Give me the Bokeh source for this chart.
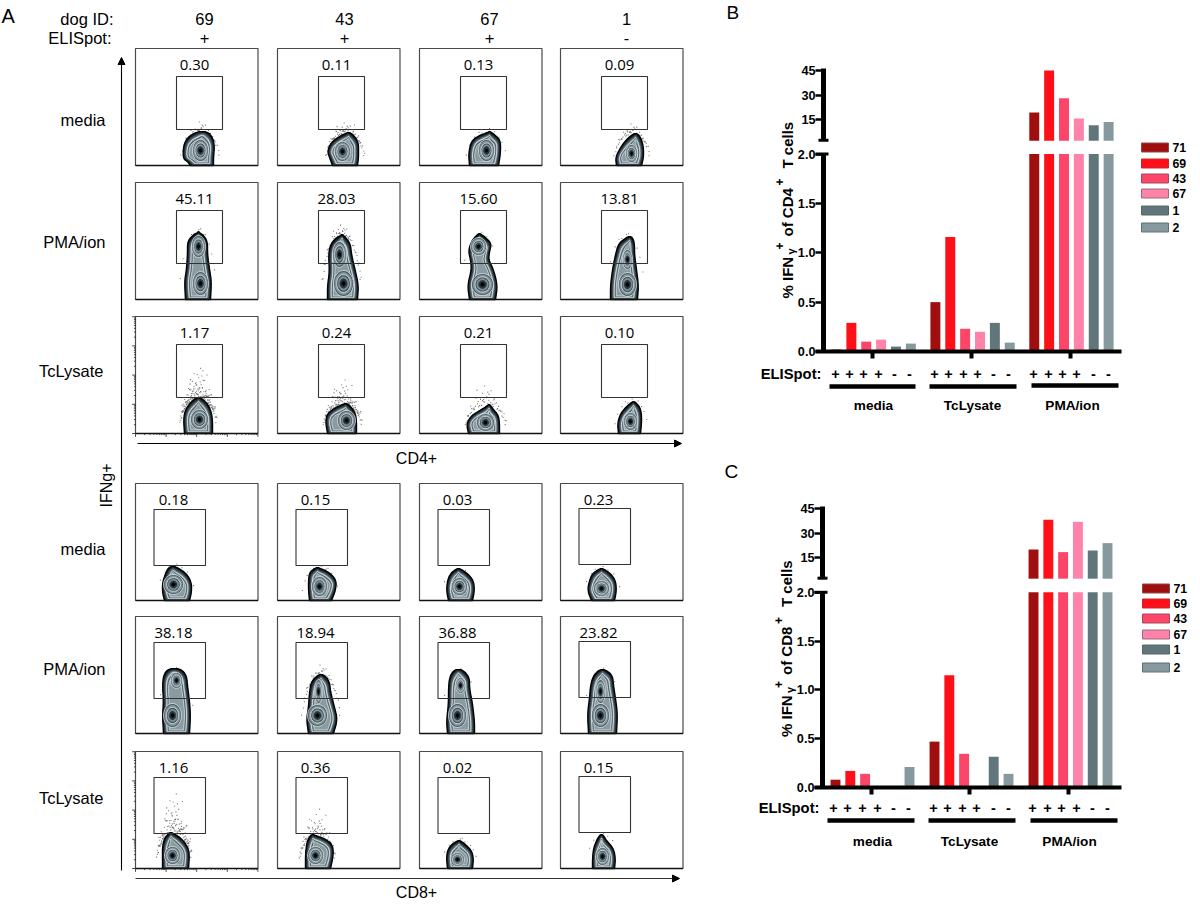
import math
import numpy as np
from bokeh.core.properties import value
from bokeh.embed import file_html
from bokeh.layouts import column, row
from bokeh.models import Arrow, FixedTicker, LinearAxis, NormalHead, Range1d
from bokeh.plotting import figure
from bokeh.resources import INLINE

# ---------- data: panel A ----------
DOG_IDS = ["69", "43", "67", "1"]
ELISPOT = ["+", "+", "+", "-"]
ROW_NAMES = ["media", "PMA/ion", "TcLysate", "media", "PMA/ion", "TcLysate"]
GATE_VALUES = [
    ["0.30", "0.11", "0.13", "0.09"],
    ["45.11", "28.03", "15.60", "13.81"],
    ["1.17", "0.24", "0.21", "0.10"],
    ["0.18", "0.15", "0.03", "0.23"],
    ["38.18", "18.94", "36.88", "23.82"],
    ["1.16", "0.36", "0.02", "0.15"],
]
COL_LEFT = [135, 277, 419, 560]
ROW_TOP = [48, 182, 316, 483, 616, 751]
# blob outlines: (height above the panel floor, left edge, right edge)
BLOBS = [
    [[(0,55,78),(4,52,78),(7,47.5,78),(20,48,79),(28,52,77),(33,60,73)],
     [(0,55,80),(8,52,81),(14,50,81),(22,53,81),(28,60,78),(32,68,74)],
     [(0,50,79),(12,49,81),(25,52,81),(30,60,76),(33,68,72)],
     [(0,56,81),(8,55,83),(18,60,83),(26,66,81),(31,72,78)]],
    [[(0,50,75),(18,49,76),(30,51,74),(45,52,72),(58,52,72),(64,57,68),(67,62,64)],
     [(0,50,80),(14,50,81),(28,52,78),(45,51,74),(55,53,73),(61,58,69),(64,63,66)],
     [(0,50,76),(14,48,78),(30,52,74),(40,51,69),(48,49,70),(56,51,72),(62,55,66),(65,58,62)],
     [(0,50,77),(14,50,78),(30,52,76),(45,55,74),(56,58,74),(62,66,72)]],
    [[(0,49,77),(15,48,77),(24,50,75),(31,55,71),(35,60,66)],
     [(0,50,79),(12,48,79),(20,50,78),(26,58,74),(29,65,71)],
     [(0,49,80),(10,47,80),(18,52,79),(24,62,74),(28,68,71)],
     [(0,58,80),(10,57,81),(20,60,81),(27,66,79),(31,71,75)]],
    [[(0,29,54),(8,27,56),(18,27,56),(27,30,51),(33,33,42)],
     [(0,32,54),(10,31,58),(20,31,59),(28,32,52),(32,37,43)],
     [(0,29,53),(10,27,55),(20,28,54),(27,31,48),(31,36,42)],
     [(0,31,54),(10,27,56),(20,29,55),(27,32,50),(31,38,44)]],
    [[(0,28,54),(18,27,55),(32,28,54),(48,27,52),(58,28,51),(64,32,46)],
     [(0,31,56),(14,29,60),(26,31,57),(42,32,53),(52,34,52),(58,40,47)],
     [(0,28,55),(12,27,55),(30,29,53),(45,29,50),(56,30,50),(63,34,44)],
     [(0,28,56),(20,27,57),(35,29,55),(48,30,53),(58,33,52),(63,38,46)]],
    [[(0,27,53),(14,27,54),(22,27,52),(30,29,46),(35,33,38)],
     [(0,28,53),(14,28,56),(24,29,55),(30,31,47),(33,33,38)],
     [(0,28,53),(10,27,54),(18,28,52),(24,32,46),(27,37,42)],
     [(0,32,54),(10,32,55),(20,33,53),(28,36,46),(33,39,43)]],
]
# density peaks inside each blob: (x, height, x radius, y radius)
LOBES = [
    [[(65,15,8,11)], [(65,14,8,10)], [(67,15,8,11)], [(71,12,6,9)]],
    [[(63,53,7,11),(65,16,8,12)], [(62,45,7,13),(66,16,10,13)],
     [(59,53,8,9),(63,15,11,11)], [(67,40,5,10),(67,15,9,12)]],
    [[(64,14,9,10)], [(69,13,9,10)], [(66,11,9,9)], [(70,12,7,9)]],
    [[(38,16,10,10)], [(42,14,8,10)], [(40,14,8,9)], [(41,12,8,8)]],
    [[(41,53,6,8),(37,18,9,12)], [(41,42,4,12),(40,18,10,11)],
     [(41,48,5,8),(38,18,9,12)], [(40,42,5,12),(40,18,9,12)]],
    [[(37,13,8,9)], [(38,13,8,9)], [(38,9,7,7)], [(42,12,7,9)]],
]
# stray events: how many per panel, how far they rise above the blob
DOT_COUNT = [[25,35,12,25],[12,30,5,10],[80,60,30,12],[8,15,3,8],[8,25,5,6],[70,45,10,6]]
DOT_RISE = [[14,14,10,14],[10,14,8,10],[32,26,26,12],[12,8,6,10],[8,14,6,8],[42,28,8,8]]
SPECK_U = [-.8,.3,-.2,.6,.05,-.55,.9,-.35,.15,.75,-.95,.4,-.1,-.7,.55,.25,-.45,.85,-.05,.35,
           -.65,.1,.7,-.25,.5,-.85,.2,-.4,.95,-.15,.65,-.6,.45,.0,-.75,.8,-.3,.3,-.5,.12,
           .58,-.9,.22,-.18,.72,-.42,.38,.02,-.68,.88,-.28,.48,-.08,.62,-.52,.18,-.78,.78,-.38,.28,
           -.12,.52,-.62,.92,-.22,.08,.42,-.82,.68,-.02,-.48,.32,.82,-.58,.14,-.34,.56,-.72,.24,-.16]
SPECK_V = [.05,.1,.02,.18,.3,.08,.04,.22,.44,.12,.01,.35,.15,.28,.06,.6,.4,.2,.75,.03,
           .14,.52,.09,.33,.25,.11,.07,.68,.16,.48,.38,.02,.85,.24,.19,.05,.58,.13,.46,.95,
           .29,.07,.36,.1,.02,.55,.17,.65,.04,.31,.21,.08,.42,.12,.27,.72,.15,.09,.37,.03,
           .5,.23,.06,.11,.8,.34,.18,.26,.41,.13,.01,.62,.2,.32,.07,.16,.47,.1,.9,.04]

# ---------- data: panels B and C ----------
STIM = ["media", "TcLysate", "PMA/ion"]
DOGS = ["71", "69", "43", "67", "1", "2"]
ELI_SIGNS = ["+", "+", "+", "+", "-", "-"]
COLORS = ["#a00f10", "#ff1019", "#fb466a", "#ff82a9", "#61767a", "#86999e"]
CD4_MEDIA = [0.02, 0.29, 0.10, 0.12, 0.05, 0.08]
CD4_LYSATE = [0.50, 1.16, 0.23, 0.20, 0.29, 0.09]
CD4_PMA = [19.3, 45.11, 28.03, 15.6, 11.5, 13.4]
CD8_MEDIA = [0.08, 0.17, 0.14, 0.0, 0.0, 0.21]
CD8_LYSATE = [0.47, 1.15, 0.345, 0.0, 0.315, 0.14]
CD8_PMA = [19.9, 38.18, 18.3, 36.88, 19.3, 23.82]
LOWER_TICKS = [0.0, 0.5, 1.0, 1.5, 2.0]
UPPER_TICKS = [15, 30, 45]

SANS = "Liberation Sans"


def txt(p, x, y, t, size, font=SANS, style="normal", align="center", angle=0.0,
        baseline="middle", **kw):
    p.text(x=x, y=y, text=t, text_font=value(font), text_font_size=size,
           text_font_style=style, text_align=align, text_baseline=baseline,
           angle=angle, text_color="#000000", **kw)


def chaikin(pts, n=2):
    pts = [tuple(q) for q in pts]
    for _ in range(n):
        out = [pts[0]]
        for a, b in zip(pts[:-1], pts[1:]):
            out.append((.75*a[0]+.25*b[0], .75*a[1]+.25*b[1]))
            out.append((.25*a[0]+.75*b[0], .25*a[1]+.75*b[1]))
        out.append(pts[-1])
        pts = out
    return pts


def inset_outline(rows, d):
    top = rows[-1][0]
    rows2 = []
    for h, l, r in rows:
        nl, nr = l + d, r - d
        if nr - nl < 1:
            mid = (l + r) / 2
            nl, nr = mid - .5, mid + .5
        nh = d*.6 + h*(top - 1.6*d)/top
        rows2.append((nh, nl, nr))
    left = [(l, h) for h, l, r in rows2]
    right = [(r, h) for h, l, r in rows2][::-1]
    peak = ((rows2[-1][1]+rows2[-1][2])/2, rows2[-1][0] + 1.2)
    return chaikin(left + [peak] + right)


# ---------- panel A ----------
a = figure(width=720, height=907, x_range=Range1d(0, 720), y_range=Range1d(907, 0),
           x_axis_type=None, y_axis_type=None, tools="", toolbar_location=None,
           output_backend="svg", min_border=0, outline_line_color=None)

INSETS = [(0, "#000000"), (.9, "#1e2a30"), (1.8, "#3c4e56"), (2.7, "#64787f"), (3.6, "#a3b3b8"),
          (4.8, "#46575f"), (5.8, "#8a9ca2")]
WHITE_LINE = {3.6, 5.8}
RINGS = [(1.0, "#465860"), (.84, "#8699a0"), (.68, "#3c4d55"), (.52, "#7f9299"), (.36, "#2a373d"), (.16, "#000000")]
px, py, pf, pl, pw = [], [], [], [], []
dx, dy = [], []
for ri, top in enumerate(ROW_TOP):
    bottom = top + 117
    for ci, left in enumerate(COL_LEFT):
        rows = BLOBS[ri][ci]
        h_top = rows[-1][0]
        mid = sum((l + r)/2 for _, l, r in rows)/len(rows)
        halfw = max(r - l for _, l, r in rows)/2
        n = DOT_COUNT[ri][ci]
        speck = list(zip(SPECK_U, SPECK_V))[:n]
        for u, v in speck:
            dx.append(left + mid + u*(halfw + 5))
            edge = h_top*math.sqrt(max(0.0, 1 - u*u))
            dy.append(bottom - edge - v*DOT_RISE[ri][ci])
            # the crowded panels get a second, mirrored helping close to the blob
            if n >= 25:
                dx.append(left + mid - u*(halfw + 4))
                dy.append(bottom - edge - .45*v*DOT_RISE[ri][ci])
        for d, col in INSETS:
            poly = inset_outline(rows, d)
            px.append([left + q[0] for q in poly])
            py.append([bottom - q[1] for q in poly])
            pf.append(col)
            pl.append("#000000" if d == 0 else "#edf2f3" if d in WHITE_LINE else col)
            pw.append(1.4 if d == 0 else .7)
        for cx, cy, rx, ry in LOBES[ri][ci]:
            for s, col in RINGS:
                t = np.linspace(0, 2*math.pi, 28)
                px.append(list(left + cx + s*rx*np.cos(t)))
                py.append(list(bottom - cy + s*ry*np.sin(t)))
                pf.append(col)
                pl.append("#edf2f3" if s > .4 and s not in (.84, .52) else col)
                pw.append(.7)

a.scatter(dx, dy, size=1.1, marker="square", fill_color="#555555", line_color=None, fill_alpha=.75)
a.patches(px, py, fill_color=pf, line_color=pl, line_width=pw)

GL, GR = (41, 87), (18.5, 70)
gate_l, gate_r, gate_t, gate_b = [], [], [], []
box_l, box_r, box_t, box_b = [], [], [], []
for ri, top in enumerate(ROW_TOP):
    for ci, left in enumerate(COL_LEFT):
        box_l.append(left); box_r.append(left + 122.5); box_t.append(top); box_b.append(top + 117)
        g = GL if ri < 3 else GR
        gate_l.append(left + g[0]); gate_r.append(left + g[1])
        if ri < 3:
            gate_t.append(top + 28); gate_b.append(top + 81)
        else:
            shift = 1 if ci == 3 else 0
            gate_t.append(top + 26 - shift); gate_b.append(top + 82 - shift)
a.quad(left=box_l, right=box_r, top=box_t, bottom=box_b, fill_color=None, line_color="#4a4a4a", line_width=1.2)
a.segment(box_l, box_b, box_r, box_b, line_color="#111111", line_width=1.5)
a.quad(left=gate_l, right=gate_r, top=gate_t, bottom=gate_b, fill_color=None, line_color="#333333", line_width=1.1)

# gate percentages
vx, vy, vt = [], [], []
for ri, top in enumerate(ROW_TOP):
    for ci, left in enumerate(COL_LEFT):
        vx.append(left + (59 if ri < 3 else 38))
        vy.append(top + 16)
        vt.append(GATE_VALUES[ri][ci])
txt(a, vx, vy, vt, "15px", font="Open Sans")

# log ticks on the two bottom-left panels
tk_x0, tk_y0, tk_x1, tk_y1 = [], [], [], []
for ri in (2, 5):
    left, bottom = COL_LEFT[0], ROW_TOP[ri] + 117
    for dec in range(4):
        for m in range(1, 10):
            o = math.log10(m)
            ln = 3.4 if m == 1 else 1.6
            tk_x0.append(left - ln); tk_x1.append(left)
            yy = bottom - (dec + o)*29.2
            tk_y0.append(yy); tk_y1.append(yy)
            xx = left + (dec + o)*30.6
            tk_x0.append(xx); tk_x1.append(xx)
            tk_y0.append(bottom); tk_y1.append(bottom + ln)
    tk_x0 += [left - 3.4, left + 122.4]; tk_x1 += [left, left + 122.4]
    tk_y0 += [bottom - 116.8, bottom]; tk_y1 += [bottom - 116.8, bottom + 3.4]
a.segment(tk_x0, tk_y0, tk_x1, tk_y1, line_color="#222222", line_width=.8)

# axes arrows
head = dict(size=7, fill_color="#000000", line_color="#000000")
a.add_layout(Arrow(end=NormalHead(**head), x_start=121, y_start=870, x_end=121, y_end=57,
                   line_color="#000000", line_width=1.1))
a.add_layout(Arrow(end=NormalHead(**head), x_start=137, y_start=443, x_end=681, y_end=443,
                   line_color="#000000", line_width=1.1))
a.add_layout(Arrow(end=NormalHead(**head), x_start=135, y_start=878, x_end=679, y_end=878,
                   line_color="#333333", line_width=1.1))

HDR_X = [204, 344, 489, 626]
txt(a, HDR_X, [18]*4, DOG_IDS, "16.5px")
txt(a, HDR_X, [37]*4, ELISPOT, "16.5px")
txt(a, [113, 111], [18, 37], ["dog ID:", "ELISpot:"], "16.5px", align="right")
txt(a, [105, 105, 103, 105, 105, 103], [119, 241, 370, 548, 668, 797], ROW_NAMES, "16.5px", align="right")
txt(a, [416, 416], [458, 892], ["CD4+", "CD8+"], "16px")
txt(a, [106], [485], ["IFNg+"], "16px", angle=math.pi/2)
txt(a, [1], [15], ["A"], "20px", align="left")


# ---------- panels B and C ----------
def bar_panel(height, y0_page, y_zero, px_unit, y15, x_axis, slot0, step, group_gap, media, lysate, pma,
              letter, letter_xy, cd_label, title_dy, title_x, x_right, plus_x, plus_y, elispot_right,
              bars_y, bars_x, lab_y, lab_x, leg_x, leg_y, leg_tx, group_ticks):
    """One broken-axis bar panel: figure spans x 720-1200, y0_page to y0_page+height on the page."""
    to_slot = lambda xp: (xp - slot0)/step
    lower = Range1d(-(y0_page + height - y_zero)/px_unit, (y_zero - y0_page)/px_unit)
    upper_scale = 1.63
    upper = Range1d(15 - (y0_page + height - y15)/upper_scale, 15 + (y15 - y0_page)/upper_scale)
    p = figure(width=480, height=height, x_range=Range1d(to_slot(720), to_slot(1200)), y_range=lower,
               x_axis_type=None, y_axis_type=None, tools="", toolbar_location=None,
               output_backend="svg", min_border=0, outline_line_color=None)
    p.extra_y_ranges = {"upper": upper, "py": Range1d(y0_page + height, y0_page)}
    p.extra_x_ranges = {"px": Range1d(720, 1200)}
    page = dict(x_range_name="px", y_range_name="py")

    x = [g*group_gap + i for g in range(3) for i in range(6)]
    vals = list(media) + list(lysate) + list(pma)
    cols = COLORS*3
    p.vbar(x=x, width=.67, bottom=0, top=list(np.minimum(vals, 2)), fill_color=cols, line_color=None)
    up = [i for i, v in enumerate(vals) if v > 2]
    p.vbar(x=[x[i] for i in up], width=.67, bottom=2, top=[vals[i] for i in up],
           fill_color=[cols[i] for i in up], line_color=None, y_range_name="upper")

    ax_slot = to_slot(x_axis)
    axis_kw = dict(axis_line_width=5, axis_line_color="#000000", major_tick_line_width=2.5,
                   major_tick_line_color="#000000", major_tick_out=8, major_tick_in=0,
                   minor_tick_line_color=None, major_label_standoff=0,
                   major_label_text_font=SANS, major_label_text_font_style="bold",
                   major_label_text_font_size="12.7px", major_label_text_color="#000000",
                   fixed_location=ax_slot)
    low_ax = LinearAxis(ticker=FixedTicker(ticks=LOWER_TICKS), bounds=(0, 2),
                        major_label_overrides={t: f"{t:.1f}" for t in LOWER_TICKS}, **axis_kw)
    up_ax = LinearAxis(ticker=FixedTicker(ticks=UPPER_TICKS), bounds=(2, 46.5), y_range_name="upper",
                       major_label_overrides={t: str(t) for t in UPPER_TICKS}, **axis_kw)
    p.add_layout(low_ax, "left")
    p.add_layout(up_ax, "left")
    cap_y_low = y_zero - 2*px_unit
    cap_y_up = y15 + 13*upper_scale - .5
    p.segment([x_axis - 8, x_axis - 5], [cap_y_low, cap_y_up], [x_axis + 5, x_axis + 5], [cap_y_low, cap_y_up],
              line_color="#000000", line_width=3, **page)

    x_ax = LinearAxis(ticker=FixedTicker(ticks=[to_slot(t) for t in group_ticks]),
                      bounds=(to_slot(x_axis - 8), to_slot(x_right)), axis_line_width=4,
                      axis_line_color="#000000", major_tick_line_width=4, major_tick_line_color="#000000",
                      major_tick_out=7, major_tick_in=0, minor_tick_line_color=None,
                      major_label_text_color=None, major_label_text_font_size="1px", fixed_location=0)
    p.add_layout(x_ax, "below")

    txt(p, plus_x, [plus_y]*18, ELI_SIGNS*3, "14.5px", style="bold", **page)
    txt(p, [elispot_right], [plus_y], ["ELISpot:"], "14.8px", style="bold", align="right", **page)
    p.segment([b[0] for b in bars_x], bars_y, [b[1] for b in bars_x], bars_y,
              line_color="#000000", line_width=4.5, **page)
    txt(p, lab_x, [lab_y]*3, STIM, "13.6px", style="bold", **page)

    # legend
    p.quad(left=[leg_x]*6, right=[leg_x + 27]*6, top=[y - 4.5 for y in leg_y], bottom=[y + 4.5 for y in leg_y],
           fill_color=COLORS, line_color=["#8b4a4a", "#c22a2a", "#a8485c", "#9a6a7c", "#56666a", "#5f7075"],
           line_width=1, **page)
    txt(p, [leg_tx]*6, leg_y, DOGS, "12.3px", style="bold", align="left", **page)

    # y title, built from its pieces
    ang = math.pi/2
    base = dict(angle=ang, align="left", baseline="middle", **page)
    txt(p, [title_x], [298 + title_dy], ["% IFN"], "15px", style="bold", **base)
    txt(p, [title_x + 3], [254 + title_dy], ["γ"], "11px", style="bold", **base)
    txt(p, [title_x - 8], [249 + title_dy], ["+"], "12px", style="bold", **base)
    txt(p, [title_x], [236 + title_dy], [f"of {cd_label}"], "15px", style="bold", **base)
    txt(p, [title_x - 8], [185 + title_dy], ["+"], "12px", style="bold", **base)
    txt(p, [title_x], [168 + title_dy], ["T cells"], "15px", style="bold", **base)

    txt(p, [letter_xy[0]], [letter_xy[1]], [letter], "19px", align="left", **page)
    return p


b = bar_panel(
    445, 0, 351, 98.75, 119, 823, 836, 14.87, 6.65, CD4_MEDIA, CD4_LYSATE, CD4_PMA,
    "B", (726, 12), "CD4", 0, 787, 1121,
    [835, 849, 863, 878, 894, 909, 934, 948, 963, 977, 993, 1008, 1033, 1048, 1062, 1076, 1093, 1108], 373, 821,
    [386, 386, 385], [(829, 915), (929, 1016), (1031, 1118)], 405, [873, 972, 1072],
    1141, [147, 163, 178, 193, 210, 227], 1172, [872, 971, 1070])

c = bar_panel(
    462, 445, 787, 97.6, 557, 822, 835, 14.8, 6.69, CD8_MEDIA, CD8_LYSATE, CD8_PMA,
    "C", (724, 471), "CD8", 438.5, 786, 1121,
    [833, 847, 862, 877, 893, 908, 933, 947, 962, 976, 993, 1008, 1032, 1047, 1061, 1076, 1092, 1107], 807, 819,
    [820, 820, 820], [(827, 914), (928, 1015), (1030, 1117)], 841, [872, 969, 1069],
    1142, [588, 603, 618, 634, 649, 667], 1173, [871, 969, 1068])

page = row(a, column(b, c, spacing=0), spacing=0)
open("out.html", "w").write(file_html(page, INLINE))
